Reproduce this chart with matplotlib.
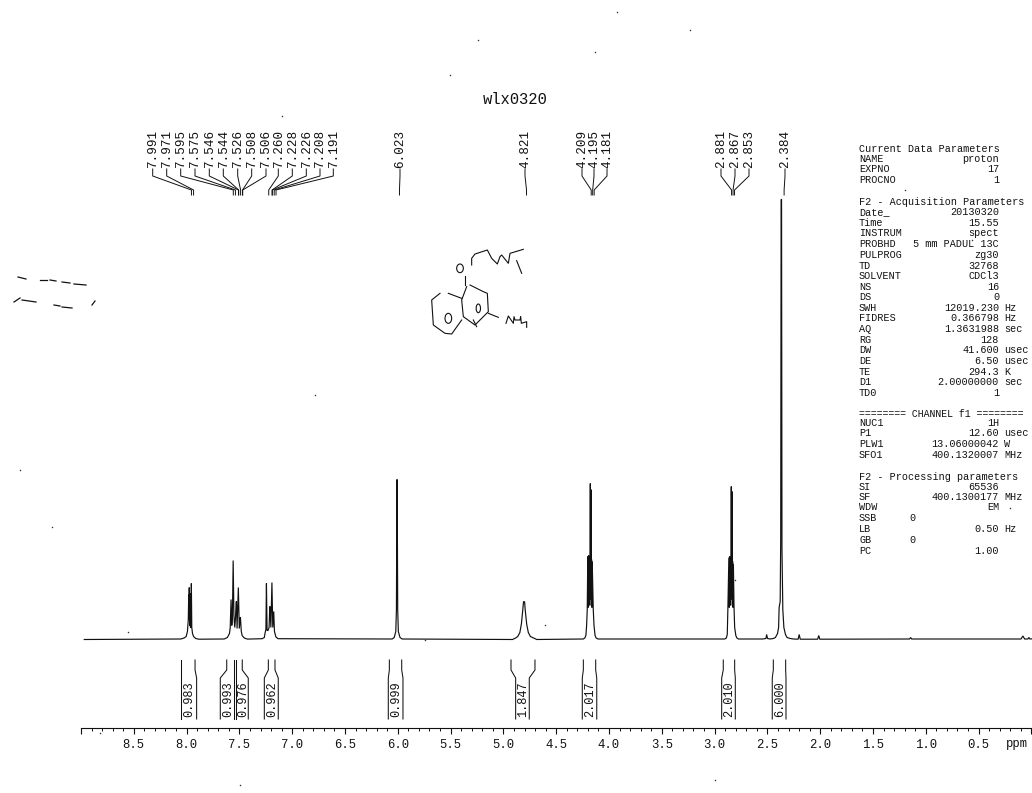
import matplotlib
matplotlib.use("Agg")
import matplotlib.pyplot as plt
from matplotlib.patches import Ellipse
from matplotlib.ticker import FixedLocator, FixedFormatter

FONT = ["Liberation Mono", "DejaVu Sans Mono"]
INK = "#111111"

# spectrum: chemical shift (ppm, peak-list scale) and height above baseline
ppm_values = [
    8.985, 8.07, 8.04, 8.02, 8.008, 8.0, 7.996, 7.994, 7.991, 7.987, 7.984, 7.98, 7.975, 7.971, 7.967, 7.96, 7.95, 7.93, 7.90,
    7.66, 7.63, 7.61, 7.603, 7.595, 7.588, 7.582, 7.575, 7.568, 7.56, 7.554, 7.546, 7.544, 7.538, 7.526, 7.517, 7.508, 7.506, 7.498, 7.49, 7.47, 7.44,
    7.30, 7.28, 7.272, 7.265, 7.26, 7.254, 7.245, 7.235, 7.228, 7.226, 7.218, 7.208, 7.2, 7.191, 7.184, 7.17, 7.15,
    6.07, 6.05, 6.035, 6.029, 6.024, 6.022, 6.017, 6.011, 5.995, 5.975,
    4.93, 4.90, 4.88, 4.86, 4.845, 4.83, 4.825, 4.815, 4.81, 4.795, 4.78, 4.76, 4.73, 4.70,
    4.26, 4.245, 4.235, 4.228, 4.222, 4.217, 4.213, 4.209, 4.205, 4.2, 4.197, 4.193, 4.19, 4.187, 4.184, 4.181, 4.178, 4.175, 4.165, 4.158, 4.148, 4.138, 4.12,
    2.92, 2.905, 2.896, 2.89, 2.881, 2.877, 2.873, 2.869, 2.865, 2.862, 2.858, 2.855, 2.851, 2.848, 2.845, 2.842, 2.838, 2.832, 2.826, 2.815, 2.805, 2.79,
    2.56, 2.53, 2.523, 2.515, 2.49, 2.46, 2.44, 2.42, 2.41, 2.405, 2.395, 2.39, 2.386, 2.382, 2.378, 2.37, 2.36, 2.345, 2.33, 2.30, 2.27,
    2.225, 2.215, 2.205, 2.04, 2.03, 2.02, 1.17, 1.16, 1.15, 0.115, 0.096, 0.08, 0.05, 0.04, 0.03, -0.01,
]
height_values = [
    0, 0.5, 1.5, 3, 8, 20, 45, 20, 52, 14, 46, 12, 12, 56, 12, 6, 3, 1, 0.3,
    0.5, 2, 6, 12, 40, 14, 24, 79, 24, 12, 20, 38, 38, 11, 52, 11, 22, 22, 8, 4, 1.5, 0.4,
    0.8, 2, 7, 10, 56, 9, 9, 12, 33, 33, 12, 57, 12, 28, 8, 2.5, 0.8,
    0.5, 2, 8, 30, 160, 160, 30, 8, 2, 0.5,
    0, 1.5, 3, 7, 16, 33, 38, 37.5, 30, 15, 7, 3, 1.5, 0,
    0.5, 1.5, 4, 14, 30, 83, 32, 84, 34, 80, 40, 156, 50, 150, 34, 80, 32, 78, 30, 14, 4, 1.5, 0.5,
    0.5, 1.5, 5, 32, 82, 32, 83, 34, 80, 40, 153, 50, 148, 34, 78, 32, 75, 32, 12, 4, 1.5, 0.5,
    0.5, 1, 5, 1, 0.5, 1, 2, 6, 12, 32, 38, 100, 440, 440, 90, 30, 12, 5, 2, 1, 0.5,
    0.3, 5, 0.3, 0.3, 4, 0.3, 0.5, 2, 0.5, 0.5, 3.5, 0.5, 0.5, 2, 0.5, 0.8,
]
PEAK_SCALE_OFFSET = 0.016

# integrals: label, (upper-left, upper-right, lower-left, lower-right) limits in ppm
integral_labels = ["0.983", "0.993", "0.976", "0.962", "0.999", "1.847", "2.017", "2.010", "6.000"]
integral_top_left = [8.053, 7.620, 7.530, 7.226, 6.080, 4.928, 4.243, 2.918, 2.444]
integral_top_right = [7.920, 7.548, 7.473, 7.163, 5.963, 4.701, 4.126, 2.810, 2.327]
integral_bottom_left = [8.053, 7.681, 7.530, 7.264, 6.090, 4.884, 4.253, 2.933, 2.454]
integral_bottom_right = [7.905, 7.548, 7.416, 7.132, 5.951, 4.755, 4.116, 2.804, 2.324]

# peak picks
peak_labels = ["7.991", "7.971", "7.595", "7.575", "7.546", "7.544", "7.526", "7.508", "7.506",
               "7.260", "7.228", "7.226", "7.208", "7.191", "6.023", "4.821", "4.209", "4.195",
               "4.181", "2.881", "2.867", "2.853", "2.384"]
peak_label_x = [152.7, 166.7, 180.7, 195, 209.3, 223.3, 237.7, 251.7, 266, 278.3, 292.3, 306.3, 320, 333.3,
                400, 525, 582, 594, 607, 721, 735, 749, 785]

# axis ticks
major_ticks = [9.0, 8.5, 8.0, 7.5, 7.0, 6.5, 6.0, 5.5, 5.0, 4.5, 4.0, 3.5, 3.0, 2.5, 2.0, 1.5, 1.0, 0.5, 0.0]
major_tick_labels = ["", "8.5", "8.0", "7.5", "7.0", "6.5", "6.0", "5.5", "5.0", "4.5", "4.0", "3.5",
                     "3.0", "2.5", "2.0", "1.5", "1.0", "0.5", ""]
minor_ticks = [round(9.0 - 0.1 * i, 1) for i in range(91)]

# parameter panel: (row y, left text, value, unit)
param_rows = [
    (149.3, "Current Data Parameters", "", ""),
    (159, "NAME", "proton", ""), (169.3, "EXPNO", "17", ""), (180, "PROCNO", "1", ""),
    (201.7, "F2 - Acquisition Parameters", "", ""),
    (212, "Date_", "20130320", ""), (222.7, "Time", "15.55", ""), (233.3, "INSTRUM", "spect", ""),
    (244, "PROBHD", "5 mm PADUL 13C", ""), (255, "PULPROG", "zg30", ""), (265.7, "TD", "32768", ""),
    (275.7, "SOLVENT", "CDCl3", ""), (286.7, "NS", "16", ""), (297.3, "DS", "0", ""),
    (307.7, "SWH", "12019.230", "Hz"), (318.3, "FIDRES", "0.366798", "Hz"), (329, "AQ", "1.3631988", "sec"),
    (340, "RG", "128", ""), (350, "DW", "41.600", "usec"), (360.7, "DE", "6.50", "usec"),
    (371.7, "TE", "294.3", "K"), (382.3, "D1", "2.00000000", "sec"), (393.3, "TD0", "1", ""),
    (423.3, "NUC1", "1H", ""), (433.3, "P1", "12.60", "usec"), (444, "PLW1", "13.06000042", "W"),
    (455, "SFO1", "400.1320007", "MHz"),
    (477.3, "F2 - Processing parameters", "", ""),
    (486.7, "SI", "65536", ""), (496.7, "SF", "400.1300177", "MHz"), (507.3, "WDW", "EM", ""),
    (518.3, "SSB", "", ""), (529.3, "LB", "0.50", "Hz"), (540, "GB", "", ""), (550.7, "PC", "1.00", ""),
]
short_rows = [(518.3, "0"), (540, "0")]
channel_row = "======== CHANNEL f1 ========"

# hand-drawn structure strokes, as seen in the scan
structure_strokes = [
    [(185, 75), (185, 55), (195, 42), (232, 30), (245, 55), (262, 72), (270, 50), (275, 45), (295, 70), (300, 40), (340, 28)],
    [(320, 62), (335, 100)],
    [(165, 108), (165, 135)],
    [(180, 135), (220, 155), (232, 160), (235, 215), (195, 255), (160, 230), (155, 180), (170, 140)],
    [(155, 175), (115, 160)],
    [(90, 160), (65, 180), (70, 255), (105, 280), (125, 282), (155, 240)],
    [(190, 240), (200, 260)],
    [(235, 220), (265, 232)],
    [(288, 250), (295, 228), (310, 250), (312, 230), (315, 240), (330, 240), (332, 230), (334, 250), (350, 245), (350, 262)],
]
structure_rings = [(150, 85, 20, 26), (115, 235, 20, 30), (205, 205, 13, 26)]

# scan dirt
smudge_strokes = [
    [(18, 277), (26, 279)], [(40, 280), (47, 280)], [(50, 280), (56, 281)], [(62, 282), (70, 283)], [(74, 284), (86, 285)],
    [(14, 302), (20, 298)], [(22, 300), (36, 302)], [(54, 305), (60, 306)], [(62, 307), (72, 308)], [(92, 305), (95, 301)],
]
speck_x = [478, 595, 617, 282, 52, 128, 100, 905, 1010, 735, 972, 690, 450, 545, 715, 425, 315, 240, 20]
speck_y = [40, 52, 12, 116, 527, 632, 733, 190, 508, 580, 240, 30, 75, 625, 780, 640, 395, 785, 470]

fig = plt.figure(figsize=(10.32, 7.93), dpi=100)
W, H = 1032, 793
AX_L, AX_R, AX_T, AX_B = 81, 1031.4, 190, 728
ax = fig.add_axes([AX_L / W, 1 - AX_B / H, (AX_R - AX_L) / W, (AX_B - AX_T) / H])
ax.set_xlim(9.0, 0.0)
ax.set_ylim(-88.5, 449.5)
ax.patch.set_alpha(0)

ax.plot([p - PEAK_SCALE_OFFSET for p in ppm_values], height_values, color=INK, lw=0.85, clip_on=False, solid_joinstyle="miter")

# integrals
Y_TOP, Y_BREAK, Y_NECK, Y_END = -20.5, -30.5, -38.5, -79.5
for i, lab in enumerate(integral_labels):
    ax.plot([integral_top_left[i], integral_top_left[i], integral_bottom_left[i], integral_bottom_left[i]],
            [Y_TOP, Y_BREAK, Y_NECK, Y_END], color=INK, lw=0.75, clip_on=False)
    ax.plot([integral_top_right[i], integral_top_right[i], integral_bottom_right[i], integral_bottom_right[i]],
            [Y_TOP, Y_BREAK, Y_NECK, Y_END], color=INK, lw=0.75, clip_on=False)
    ax.text((integral_bottom_left[i] + integral_bottom_right[i]) / 2 - 0.008, -60, lab, rotation=90,
            ha="center", va="center", family=FONT, fontsize=8.6, color=INK)

# axis
for s in ("top", "left", "right"):
    ax.spines[s].set_visible(False)
ax.spines["bottom"].set_linewidth(0.8)
ax.spines["bottom"].set_color(INK)
ax.yaxis.set_visible(False)
ax.xaxis.set_major_locator(FixedLocator(major_ticks))
ax.xaxis.set_major_formatter(FixedFormatter(major_tick_labels))
ax.xaxis.set_minor_locator(FixedLocator(minor_ticks))
ax.tick_params(axis="x", which="major", length=4, width=0.8, color=INK, pad=4, labelsize=8.8, labelcolor=INK)
ax.tick_params(axis="x", which="minor", length=2, width=0.7, color=INK)
for t in ax.get_xticklabels():
    t.set_family(FONT)

# overlay in picture units for annotation
ov = fig.add_axes([0, 0, 1, 1])
ov.set_xlim(0, W)
ov.set_ylim(H, 0)
ov.axis("off")
ov.patch.set_alpha(0)

ov.text(515, 99, "wlx0320", ha="center", va="center", family=FONT, fontsize=11.2, color=INK)
ov.text(1017, 744, "ppm", ha="center", va="center", family=FONT, fontsize=8.8, color=INK)

for x, lab in zip(peak_label_x, peak_labels):
    ov.text(x + 0.5, 149, lab, rotation=90, ha="center", va="center", family=FONT, fontsize=9.1, color=INK)
    bottom = 190.5 + (8 - float(lab)) * 105.7
    ov.plot([x, x, bottom, bottom], [169, 176, 190, 195], color=INK, lw=0.7)

for y, left, val, unit in param_rows:
    ov.text(859, y, left, ha="left", va="center", family=FONT, fontsize=7.3, color=INK)
    if val:
        ov.text(999, y, val, ha="right", va="center", family=FONT, fontsize=7.3, color=INK)
    if unit:
        ov.text(1004, y, unit, ha="left", va="center", family=FONT, fontsize=7.3, color=INK)
for y, val in short_rows:
    ov.text(912, y, val, ha="center", va="center", family=FONT, fontsize=7.3, color=INK)
ov.text(859, 414, channel_row, ha="left", va="center", family=FONT, fontsize=7.1, color=INK)

for stroke in structure_strokes:
    ov.plot([410 + a / 3 for a, _ in stroke], [240 + b / 3 for _, b in stroke], color=INK, lw=0.8)
for cx, cy, w, h in structure_rings:
    ov.add_patch(Ellipse((410 + cx / 3, 240 + cy / 3), w / 3, h / 3, fill=False, ec=INK, lw=0.8))

for stroke in smudge_strokes:
    ov.plot([a for a, _ in stroke], [b for _, b in stroke], color=INK, lw=0.9)
ov.scatter(speck_x, speck_y, s=1.2, color="#333333", linewidths=0)

fig.savefig("out.png", dpi=100, facecolor="white")
